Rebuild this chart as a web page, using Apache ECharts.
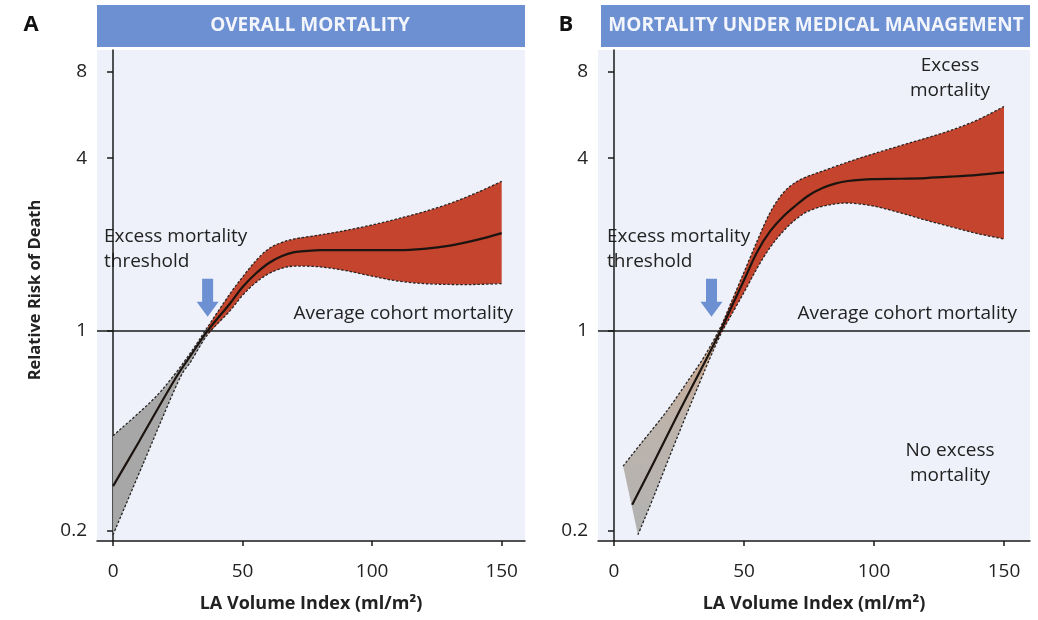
<!DOCTYPE html>
<html>
<head>
<meta charset="utf-8">
<script src="https://cdn.jsdelivr.net/npm/echarts@6/dist/echarts.min.js"></script>
<style>
  html, body { margin: 0; padding: 0; background: #ffffff; }
  #chart { width: 1038px; height: 620px; }
</style>
</head>
<body>
<div id="chart"></div>
<script>
// Axis ticks
const xTicks = [0, 50, 100, 150];
const yTicks = [0.2, 1, 4, 8];

// Panel A: overall mortality — [LA volume index, relative risk]
const aThreshold = 36.5;
const aCentral = [[0,0.287],[10,0.41],[24,0.68],[30,0.82],[36.5,1.0],[45,1.24],[50,1.42],[55,1.58],[60,1.72],[65,1.82],[70,1.88],[75,1.9],[80,1.91],[90,1.91],[100,1.91],[110,1.91],[120,1.93],[130,1.98],[140,2.07],[150,2.19]];
const aUpper   = [[0,0.43],[15,0.57],[23,0.69],[30,0.84],[36.5,1.03],[45,1.34],[50,1.54],[55,1.75],[60,1.93],[65,2.03],[70,2.09],[80,2.16],[90,2.24],[100,2.34],[110,2.46],[120,2.6],[130,2.78],[140,3.02],[150,3.32]];
const aLower   = [[0,0.194],[12,0.35],[25,0.66],[30,0.78],[36.5,0.97],[45,1.17],[50,1.33],[55,1.47],[60,1.58],[65,1.65],[70,1.68],[80,1.67],[90,1.62],[100,1.55],[110,1.49],[120,1.46],[130,1.45],[140,1.45],[150,1.46]];

// Panel B: mortality under medical management
const bThreshold = 37.5;
const bCross = 41;
const bCentral = [[7,0.247],[15,0.343],[25,0.52],[35,0.78],[41,1.0],[45,1.2],[50,1.5],[55,1.88],[60,2.22],[65,2.5],[70,2.74],[75,2.97],[80,3.14],[85,3.26],[90,3.33],[100,3.38],[110,3.39],[120,3.41],[130,3.45],[140,3.5],[150,3.57]];
const bUpper   = [[3.5,0.337],[10,0.4],[20,0.52],[29,0.68],[35,0.82],[41,1.03],[45,1.25],[50,1.6],[55,2.05],[60,2.58],[65,3.02],[70,3.3],[75,3.47],[80,3.6],[90,3.88],[100,4.15],[110,4.42],[120,4.7],[130,5.02],[140,5.45],[150,6.06]];
const bLower   = [[9.2,0.194],[15,0.26],[25,0.44],[35,0.73],[41,0.97],[45,1.13],[50,1.36],[55,1.65],[60,1.95],[65,2.22],[70,2.45],[75,2.62],[82,2.74],[90,2.79],[100,2.72],[110,2.58],[120,2.43],[130,2.3],[140,2.18],[150,2.09]];

const FONT = '"Open Sans", "Noto Sans", sans-serif';
const INK = '#222222';
const BLUE = '#6d90d2';
const RED = '#c4442d';

// Catmull-Rom style cubic segments through pixel points
function curveSegments(pts) {
  let d = '';
  for (let i = 0; i < pts.length - 1; i++) {
    const p0 = pts[i - 1] || pts[i], p1 = pts[i], p2 = pts[i + 1], p3 = pts[i + 2] || p2;
    const c1 = [p1[0] + (p2[0] - p0[0]) / 6, p1[1] + (p2[1] - p0[1]) / 6];
    const c2 = [p2[0] - (p3[0] - p1[0]) / 6, p2[1] - (p3[1] - p1[1]) / 6];
    d += ' C' + c1[0] + ',' + c1[1] + ' ' + c2[0] + ',' + c2[1] + ' ' + p2[0] + ',' + p2[1];
  }
  return d;
}
function openCurve(pts) {
  return 'M' + pts[0][0] + ',' + pts[0][1] + curveSegments(pts);
}
function bandPath(up, lo) {
  const lr = lo.slice().reverse();
  return 'M' + up[0][0] + ',' + up[0][1] + curveSegments(up) +
         ' L' + lr[0][0] + ',' + lr[0][1] + curveSegments(lr) + ' Z';
}

function bandSeries(idx, upper, lower, cross, greyFill) {
  return {
    type: 'custom',
    xAxisIndex: idx, yAxisIndex: idx,
    coordinateSystem: 'cartesian2d',
    data: [[cross, 1]],
    z: 2,
    silent: true,
    renderItem: function (params, api) {
      const px = arr => arr.map(p => api.coord(p));
      const upG = px(upper.filter(p => p[0] <= cross));
      const loG = px(lower.filter(p => p[0] <= cross));
      const upR = px(upper.filter(p => p[0] >= cross));
      const loR = px(lower.filter(p => p[0] >= cross));
      const dash = { stroke: '#262626', lineWidth: 1.3, lineDash: [2.5, 1.8], fill: null };
      return {
        type: 'group',
        children: [
          { type: 'path', shape: { pathData: bandPath(upG, loG) }, style: { fill: greyFill, stroke: null } },
          { type: 'path', shape: { pathData: bandPath(upR, loR) }, style: { fill: RED, stroke: null } },
          { type: 'path', shape: { pathData: openCurve(px(upper)) }, style: dash },
          { type: 'path', shape: { pathData: openCurve(px(lower)) }, style: dash }
        ]
      };
    }
  };
}

function centralSeries(idx, data, thr) {
  return {
    type: 'line',
    xAxisIndex: idx, yAxisIndex: idx,
    data: data,
    smooth: 0.35,
    symbol: 'none',
    z: 3,
    silent: true,
    lineStyle: { color: '#1c1410', width: 2.2 },
    markLine: {
      silent: true,
      symbol: 'none',
      label: { show: false },
      lineStyle: { color: '#1a1a1a', width: 1.5, type: 'solid' },
      data: [{ yAxis: 1 }]
    },
    markPoint: {
      silent: true,
      label: { show: false },
      data: [{
        coord: [thr, 1],
        symbol: 'path://M5.5,0 L16.5,0 L16.5,23 L22,23 L11,38 L0,23 L5.5,23 Z',
        symbolSize: [22, 38],
        symbolOffset: [0, -33],
        itemStyle: { color: BLUE }
      }]
    }
  };
}

function xAxisCfg(idx, min, max) {
  return {
    type: 'value', gridIndex: idx, min: min, max: max,
    name: 'LA Volume Index (ml/m²)',
    nameLocation: 'middle', nameGap: 54,
    nameTextStyle: { fontFamily: FONT, fontSize: 18, fontWeight: 'bold', color: INK },
    axisLine: { onZero: false, lineStyle: { color: '#1a1a1a', width: 1.5 } },
    axisTick: { customValues: xTicks, length: 5, lineStyle: { color: '#1a1a1a', width: 1.5 } },
    axisLabel: { customValues: xTicks, margin: 21, fontFamily: FONT, fontSize: 19, color: INK },
    splitLine: { show: false }
  };
}
function yAxisCfg(idx) {
  return {
    type: 'log', logBase: 2, gridIndex: idx, min: 0.1846, max: 9.54,
    axisLine: { show: true, lineStyle: { color: '#1a1a1a', width: 1.5 } },
    axisTick: { show: true, customValues: yTicks, length: 6, lineStyle: { color: '#1a1a1a', width: 1.5 } },
    axisLabel: { customValues: yTicks, margin: 10, fontFamily: FONT, fontSize: 19, color: INK },
    splitLine: { show: false }
  };
}

function label(x, y, text, align, extra) {
  return Object.assign({
    type: 'text', x: x, y: y,
    style: { text: text, fill: INK, font: '19px ' + FONT, align: align || 'left', verticalAlign: 'middle', lineHeight: 25 }
  }, extra || {});
}

const chart = echarts.init(document.getElementById('chart'), null, { renderer: 'canvas' });
chart.setOption({
  animation: false,
  backgroundColor: '#ffffff',
  grid: [
    { left: 97, right: 513, top: 50, bottom: 79, show: true, backgroundColor: '#eef1f9', borderWidth: 0 },
    { left: 598, right: 8, top: 50, bottom: 79, show: true, backgroundColor: '#eef1f9', borderWidth: 0 }
  ],
  xAxis: [xAxisCfg(0, -6.2, 159), xAxisCfg(1, -6.15, 160)],
  yAxis: [yAxisCfg(0), yAxisCfg(1)],
  series: [
    bandSeries(0, aUpper, aLower, aThreshold, '#a7a7a7'),
    centralSeries(0, aCentral, aThreshold),
    bandSeries(1, bUpper, bLower, bCross, new echarts.graphic.LinearGradient(0, 1, 0, 0, [
      { offset: 0, color: '#b2b2b2' }, { offset: 0.55, color: '#bdb3ab' }, { offset: 1, color: '#cfa487' }
    ])),
    centralSeries(1, bCentral, bThreshold)
  ],
  graphic: [
    // panel letters
    { type: 'text', x: 31, y: 25, style: { text: 'A', font: 'bold 22px ' + FONT, fill: '#111', align: 'center', verticalAlign: 'middle' } },
    { type: 'text', x: 566, y: 25, style: { text: 'B', font: 'bold 22px ' + FONT, fill: '#111', align: 'center', verticalAlign: 'middle' } },
    // title banners
    { type: 'rect', shape: { x: 97, y: 5, width: 428, height: 42 }, style: { fill: BLUE } },
    { type: 'text', x: 310, y: 26, style: { text: 'OVERALL MORTALITY', font: 'bold 19px ' + FONT, fill: '#f2f5fc', align: 'center', verticalAlign: 'middle' } },
    { type: 'rect', shape: { x: 601, y: 5, width: 429, height: 42 }, style: { fill: BLUE } },
    { type: 'text', x: 816, y: 26, style: { text: 'MORTALITY UNDER MEDICAL MANAGEMENT', font: 'bold 19px ' + FONT, fill: '#f2f5fc', align: 'center', verticalAlign: 'middle' } },
    // y axis name
    { type: 'text', x: 35, y: 290, rotation: Math.PI / 2,
      style: { text: 'Relative Risk of Death', font: 'bold 16.5px ' + FONT, fill: INK, align: 'center', verticalAlign: 'middle' } },
    // panel A notes
    label(104, 249, 'Excess mortality\nthreshold'),
    label(513, 314, 'Average cohort mortality', 'right'),
    // panel B notes
    label(607, 249, 'Excess mortality\nthreshold'),
    label(1017, 314, 'Average cohort mortality', 'right'),
    label(950, 78, 'Excess\nmortality', 'center'),
    label(950, 463, 'No excess\nmortality', 'center')
  ]
});
</script>
</body>
</html>
